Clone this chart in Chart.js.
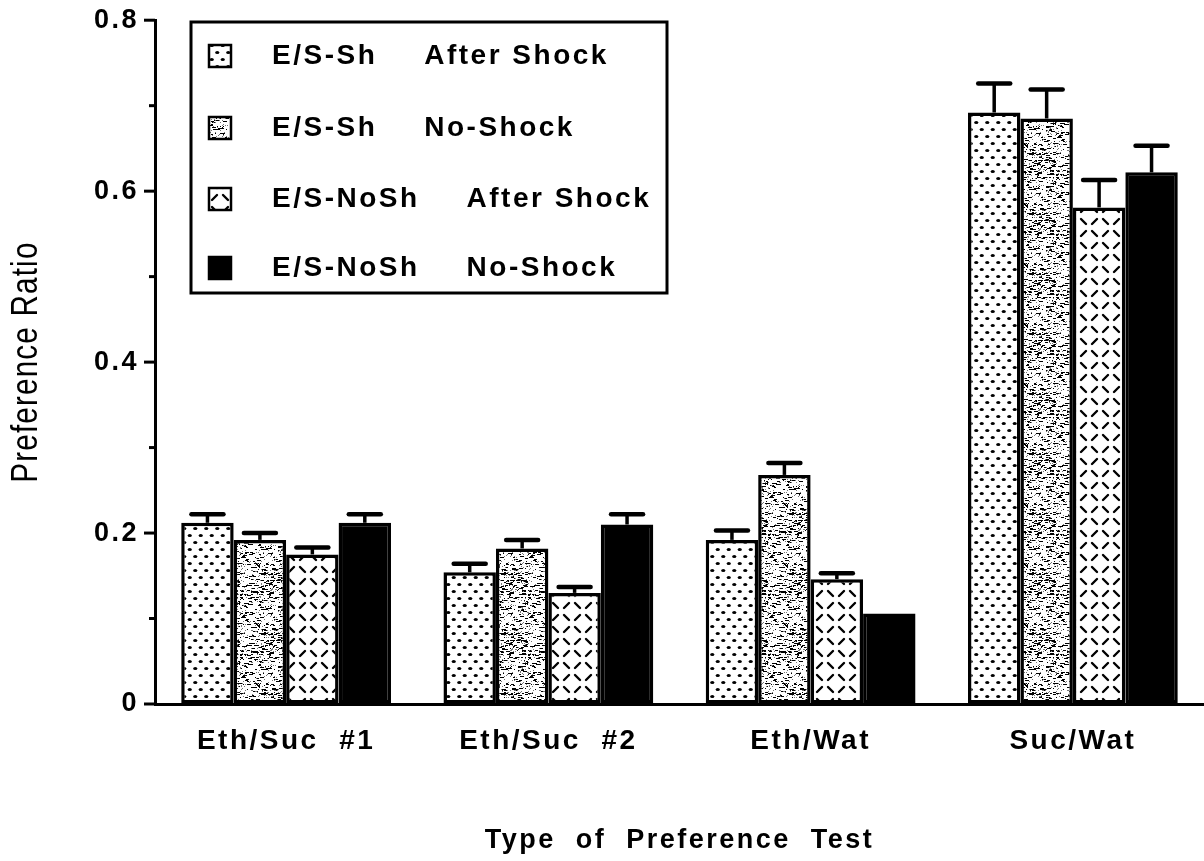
<!DOCTYPE html>
<html>
<head>
<meta charset="utf-8">
<script src="https://cdn.jsdelivr.net/npm/chart.js@4.4.1/dist/chart.umd.min.js"></script>
<style>
  html, body { margin: 0; padding: 0; background: #fff; }
  canvas { display: block; }
</style>
</head>
<body>
<canvas id="chart" width="1204" height="861"></canvas>
<script>
// DATA
const categories = ['Eth/Suc  #1', 'Eth/Suc  #2', 'Eth/Wat', 'Suc/Wat'];
const groupNames = ['E/S-Sh', 'E/S-Sh', 'E/S-NoSh', 'E/S-NoSh'];
const conditionNames = ['After Shock', 'No-Shock', 'After Shock', 'No-Shock'];

const shAfter   = [0.212, 0.154, 0.192, 0.692];
const shNo      = [0.192, 0.182, 0.268, 0.685];
const noShAfter = [0.175, 0.130, 0.146, 0.581];
const noShNo    = [0.212, 0.210, 0.106, 0.622];

// standard errors (bar top -> cap)
const shAfterErr   = [0.010, 0.010, 0.011, 0.034];
const shNoErr      = [0.008, 0.010, 0.014, 0.034];
const noShAfterErr = [0.008, 0.007, 0.007, 0.032];
const noShNoErr    = [0.010, 0.012, 0.000, 0.031];

const yTickLabels = ['0', '0.2', '0.4', '0.6', '0.8'];
const yTitle = 'Preference Ratio';
const xTitle = 'Type  of  Preference  Test';

const FONT = "'Liberation Sans', Arial, sans-serif";

// PATTERNS
function makeTile(w, h, draw) {
    const c = document.createElement('canvas');
    c.width = w; c.height = h;
    const g = c.getContext('2d');
    g.fillStyle = '#fff';
    g.fillRect(0, 0, w, h);
    draw(g, w, h);
    return g.createPattern(c, 'repeat');
}

const dotFill = makeTile(11, 14, g => {
    g.fillStyle = '#000';
    [[2.75, 3.5], [8.25, 10.5]].forEach(([x, y]) => {
        g.beginPath();
        g.ellipse(x, y, 2.1, 1.6, 0, 0, Math.PI * 2);
        g.fill();
    });
});

// speckled grey texture (fixed seed so it is the same every render)
const speckFill = makeTile(48, 60, g => {
    let seed = 7;
    const rnd = () => { seed = (seed * 16807) % 2147483647; return seed / 2147483647; };
    g.fillStyle = '#000';
    for (let i = 0; i < 290; i++) {
        const x = Math.floor(rnd() * 48);
        const y = Math.floor(rnd() * 60);
        const w = 1 + Math.floor(rnd() * 4);
        g.fillRect(x, y, w, 1);
    }
    g.fillStyle = '#777';
    for (let i = 0; i < 200; i++) {
        g.fillRect(Math.floor(rnd() * 48), Math.floor(rnd() * 60), 1, 1);
    }
});

const dashFill = makeTile(22, 24, g => {
    g.strokeStyle = '#000';
    g.lineWidth = 2.4;
    g.lineCap = 'round';
    const seg = (x1, y1, x2, y2) => { g.beginPath(); g.moveTo(x1, y1); g.lineTo(x2, y2); g.stroke(); };
    seg(3, 3, 8, 8);     // "\"
    seg(14, 8, 19, 3);   // "/"
    seg(3, 20, 8, 15);   // "/"
    seg(14, 15, 19, 20); // "\"
});

const fills = [dotFill, speckFill, dashFill, '#000'];
const seriesVals = [shAfter, shNo, noShAfter, noShNo];
const seriesErr = [shAfterErr, shNoErr, noShAfterErr, noShNoErr];

// PLUGINS
const letterSpacing = {
    id: 'letterSpacing',
    beforeDraw(chart) { chart.ctx.letterSpacing = '2.5px'; }
};

const errorBars = {
    id: 'errorBars',
    afterDatasetsDraw(chart) {
        const { ctx } = chart;
        const y = chart.scales.y;
        ctx.save();
        ctx.strokeStyle = '#000';
        chart.data.datasets.forEach((ds, i) => {
            chart.getDatasetMeta(i).data.forEach((bar, j) => {
                const err = ds.errors[j];
                if (!err) return;
                const top = y.getPixelForValue(ds.data[j] + err);
                ctx.lineWidth = 3.5;
                ctx.lineCap = 'butt';
                ctx.beginPath();
                ctx.moveTo(bar.x, bar.y);
                ctx.lineTo(bar.x, top);
                ctx.stroke();
                ctx.lineWidth = 4.5;
                ctx.lineCap = 'round';
                ctx.beginPath();
                ctx.moveTo(bar.x - 16, top);
                ctx.lineTo(bar.x + 16, top);
                ctx.stroke();
            });
        });
        ctx.restore();
    }
};

// major ticks every 0.2, minor ones in between; condensed y title
const yAxisExtras = {
    id: 'yAxisExtras',
    afterDraw(chart) {
        const { ctx, chartArea } = chart;
        const y = chart.scales.y;
        ctx.save();
        ctx.strokeStyle = '#000';
        ctx.lineWidth = 3;
        y.ticks.forEach(t => {
            const major = Math.round(t.value * 10) % 2 === 0;
            const py = y.getPixelForValue(t.value);
            ctx.beginPath();
            ctx.moveTo(chartArea.left - (major ? 11 : 6), py);
            ctx.lineTo(chartArea.left, py);
            ctx.stroke();
        });
        ctx.translate(27, (chartArea.top + chartArea.bottom) / 2);
        ctx.rotate(-Math.PI / 2);
        ctx.scale(0.8, 1);
        ctx.letterSpacing = '1.5px';
        ctx.font = '37px ' + FONT;
        ctx.fillStyle = '#000';
        ctx.textAlign = 'center';
        ctx.textBaseline = 'middle';
        ctx.fillText(yTitle, 0, 0);
        ctx.restore();
    }
};

const boxLegend = {
    id: 'boxLegend',
    afterDraw(chart) {
        const { ctx } = chart;
        const bx = 191, by = 22, bw = 476, bh = 271;
        ctx.save();
        ctx.fillStyle = '#fff';
        ctx.fillRect(bx, by, bw, bh);
        ctx.strokeStyle = '#000';
        ctx.lineWidth = 3;
        ctx.strokeRect(bx, by, bw, bh);
        ctx.font = 'bold 28px ' + FONT;
        ctx.letterSpacing = '2.5px';
        ctx.textBaseline = 'middle';
        const rows = [56, 128, 199, 268];
        chart.data.datasets.forEach((ds, i) => {
            const cy = rows[i];
            ctx.fillStyle = ds.backgroundColor;
            ctx.fillRect(209, cy - 11, 22, 22);
            ctx.lineWidth = 2.5;
            ctx.strokeRect(209, cy - 11, 22, 22);
            ctx.fillStyle = '#000';
            ctx.fillText(groupNames[i], 272, cy);
            const w = ctx.measureText(groupNames[i]).width;
            ctx.fillText(conditionNames[i], 272 + w + 47, cy);
        });
        ctx.restore();
    }
};

// CHART
new Chart(document.getElementById('chart').getContext('2d'), {
    type: 'bar',
    data: {
        labels: categories,
        datasets: seriesVals.map((vals, i) => ({
            label: groupNames[i] + '  ' + conditionNames[i],
            data: vals,
            errors: seriesErr[i],
            backgroundColor: fills[i],
            borderColor: '#000',
            borderWidth: 3.5,
            borderSkipped: false,
            barPercentage: 1,
            categoryPercentage: 0.8
        }))
    },
    options: {
        responsive: false,
        animation: false,
        layout: { padding: { top: 20, right: 0, left: 0, bottom: 0 } },
        plugins: { legend: { display: false }, tooltip: { enabled: false } },
        scales: {
            x: {
                grid: { display: false, drawTicks: false },
                border: { display: true, color: '#000', width: 3 },
                ticks: { color: '#000', padding: 20, font: { family: FONT, size: 28, weight: 'bold' } },
                title: {
                    display: true,
                    text: xTitle,
                    color: '#000',
                    font: { family: FONT, size: 27, weight: 'bold' },
                    padding: { top: 0, bottom: 4 }
                },
                afterFit: s => { s.height = 157; }
            },
            y: {
                min: 0,
                max: 0.8,
                grid: { color: 'transparent', drawOnChartArea: false, tickLength: 12 },
                border: { color: '#000', width: 3 },
                ticks: {
                    stepSize: 0.1,
                    padding: 4,
                    color: '#000',
                    font: { family: FONT, size: 27, weight: 'bold' },
                    callback: v => {
                        const k = Math.round(v * 10);
                        return k % 2 === 0 ? yTickLabels[k / 2] : '';
                    }
                },
                afterFit: s => { s.width = 155; }
            }
        }
    },
    plugins: [letterSpacing, errorBars, yAxisExtras, boxLegend]
});
</script>
</body>
</html>
